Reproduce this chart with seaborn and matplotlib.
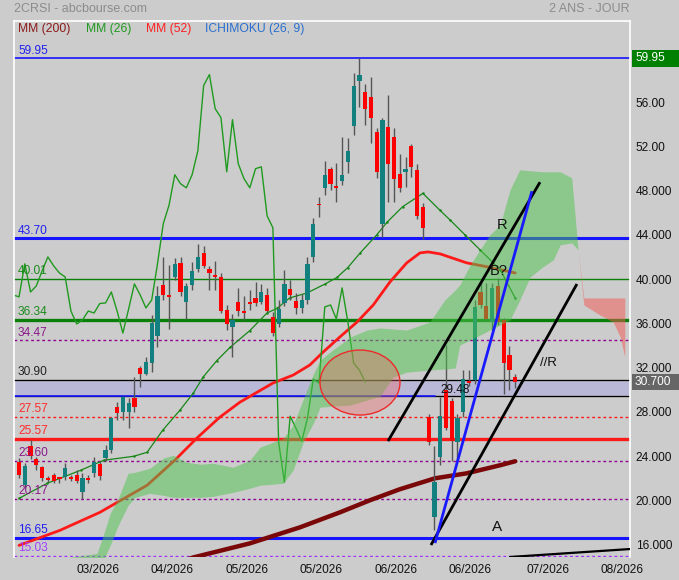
import numpy as np
import pandas as pd
import matplotlib
matplotlib.use("Agg")
import matplotlib.pyplot as plt
import matplotlib.transforms as mtransforms
from matplotlib.patches import Ellipse, Rectangle
import seaborn as sns

# ---- daily candles (open / high / low / close) ----
opens = [23.49, 21.38, 24.91, 23.73, 23.01, 21.95, 22.28, 22.05, 22.10, 22.13,
         22.28, 20.74, 22.04, 22.46, 23.28, 23.82, 24.54, 28.44, 27.98, 27.98,
         29.25, 31.97, 31.42, 32.42, 34.86, 39.48, 38.55, 40.20, 41.47, 37.94,
         39.48, 40.92, 42.37, 40.93, 40.38, 40.20, 37.21, 35.68, 37.94, 37.12,
         37.85, 38.30, 37.94, 38.57, 36.58, 35.95, 37.85, 39.12, 38.03, 37.40,
         38.12, 42.01, 46.72, 48.26, 49.98, 48.44, 48.89, 50.61, 53.87, 57.94,
         56.95, 56.49, 53.32, 45.00, 53.78, 52.87, 49.52, 49.70, 52.06, 49.88,
         46.54, 27.53, 18.48, 23.91, 29.98, 28.98, 25.27, 27.98, 30.70, 30.88,
         38.84, 37.58, 36.13, 39.39, 36.31, 33.14, 31.20]
highs = [23.82, 23.35, 25.45, 23.95, 23.15, 22.25, 22.45, 22.15, 23.35, 22.35,
         22.75, 22.45, 22.30, 23.91, 23.55, 25.05, 27.55, 28.92, 29.45, 29.25,
         31.15, 32.15, 32.95, 36.75, 39.35, 42.01, 41.29, 41.92, 42.01, 39.65,
         41.55, 43.19, 43.01, 41.20, 41.65, 40.56, 37.65, 36.85, 39.21, 38.48,
         39.05, 39.75, 39.57, 39.21, 37.03, 38.12, 40.85, 39.93, 38.75, 38.65,
         42.01, 45.54, 47.44, 50.70, 50.15, 50.52, 52.87, 52.78, 58.66, 59.95,
         57.67, 58.30, 53.69, 54.59, 56.67, 53.69, 51.33, 51.06, 52.24, 50.43,
         46.90, 27.80, 24.91, 29.34, 34.05, 29.25, 27.85, 31.78, 31.78, 38.12,
         39.66, 39.66, 39.66, 40.11, 36.49, 33.96, 31.45]
lows = [22.01, 21.15, 23.75, 22.75, 21.75, 21.65, 21.55, 21.55, 21.85, 21.75,
        21.55, 20.11, 21.60, 22.15, 21.85, 23.55, 24.25, 27.25, 27.25, 26.55,
        28.00, 30.25, 31.35, 31.65, 33.85, 38.15, 35.49, 39.93, 38.45, 36.40,
        39.05, 40.65, 41.02, 39.05, 39.05, 36.95, 35.41, 32.95, 36.65, 36.31,
        37.21, 37.58, 37.75, 37.03, 34.85, 35.68, 37.58, 38.15, 36.85, 36.95,
        37.75, 41.55, 45.63, 47.62, 48.05, 46.99, 48.53, 49.61, 53.05, 55.59,
        53.96, 52.33, 49.15, 43.82, 46.99, 46.99, 47.89, 48.35, 49.25, 45.45,
        43.64, 25.00, 17.30, 23.19, 26.35, 23.55, 23.55, 27.53, 30.34, 30.52,
        37.40, 36.31, 35.41, 35.85, 29.61, 29.97, 30.20]
closes = [22.28, 23.12, 24.00, 23.19, 22.01, 21.90, 21.74, 21.95, 22.92, 21.92,
          21.74, 22.01, 21.83, 23.46, 22.19, 24.54, 27.44, 27.89, 29.34, 28.80,
          28.44, 31.42, 32.51, 36.04, 38.48, 38.57, 38.40, 41.38, 38.84, 39.39,
          40.74, 42.01, 41.20, 40.56, 40.20, 37.12, 35.95, 36.31, 37.12, 36.94,
          37.80, 37.85, 38.84, 37.12, 35.13, 37.31, 39.57, 38.57, 37.40, 38.12,
          41.38, 45.00, 46.68, 49.43, 48.62, 48.25, 49.43, 51.60, 57.49, 58.48,
          55.40, 54.59, 49.70, 54.41, 50.43, 49.07, 48.25, 49.98, 50.15, 45.72,
          44.64, 25.27, 21.65, 27.62, 26.54, 25.36, 27.44, 30.97, 30.61, 37.49,
          37.67, 36.40, 39.21, 36.13, 32.42, 31.78, 30.70]

# moving averages, read at sample sessions
mm26_x = [0, 4.9, 10.7, 14.7, 19.9, 22.2, 24.9, 27.9, 30.2, 31.9, 34.3, 36.6, 40.0, 43.0, 44.7,
          46.9, 49.9, 53.0, 55.1, 57.0, 59.1, 62.0, 63.8, 66.5, 70.0, 72.9, 74.7, 77.3, 79.9, 83.4, 86.0]
mm26_y = [20.20, 21.56, 22.74, 23.64, 24.00, 24.36, 26.35, 28.17, 29.70, 31.15, 32.65, 33.85, 35.35, 36.95, 37.35,
          38.30, 38.75, 39.55, 40.15, 41.05, 42.35, 44.00, 45.15, 46.55, 47.75, 46.25, 45.35, 44.00, 42.65, 40.85, 38.30]
mm52_x = [0, 7.1, 14.0, 22.2, 27.0, 30.8, 34.8, 38.3, 44.0, 47.5, 50.4, 52.7, 55.6, 58.6, 61.4,
          64.3, 67.2, 69.5, 70.9, 73.0, 77.6, 82.1, 86.0]
mm52_y = [15.95, 17.31, 18.93, 21.38, 23.64, 25.63, 27.53, 28.89, 30.61, 31.33, 32.24, 33.41, 34.77, 36.13, 37.67,
          39.75, 41.47, 42.37, 42.46, 42.28, 41.47, 41.02, 40.56]
mm200_x = [25, 30.2, 40.0, 48.7, 55.6, 60.8, 66.0, 72.1, 77.6, 83.4, 86.0]
mm200_y = [14.00, 14.86, 16.13, 17.58, 18.93, 20.02, 21.02, 22.01, 22.46, 23.19, 23.55]

# ichimoku cloud (senkou A / senkou B)
cloud_x = [8.8, 13.5, 14.6, 15.8, 17.2, 18.9, 20.1, 22.7, 25.0, 26.7, 29.1, 31.4, 33.6, 37.1, 40.0, 41.8,
           45.8, 47.5, 49.2, 51.0, 52.2, 54.4, 57.4, 60.3, 62.6, 64.8, 67.2, 71.2, 73.8, 75.6, 76.4, 78.2,
           79.9, 81.6, 83.4, 85.1, 86.8, 88.6, 90.8, 92.6, 93.8, 95.8, 96.9, 97.9, 100.7, 103.0, 104.2, 105.0]
span_a = [14.86, 15.22, 16.85, 18.84, 20.20, 22.46, 22.55, 22.92, 23.82, 24.09, 23.46, 23.28, 23.37, 23.01, 23.64, 24.82,
          25.63, 26.81, 29.07, 31.42, 32.69, 33.60, 34.77, 35.40, 35.59, 35.50, 35.40, 36.13, 38.12, 39.02, 39.48, 41.29,
          42.65, 44.00, 44.91, 48.07, 49.88, 49.79, 49.70, 49.70, 49.70, 49.16, 42.65, 37.67, 36.76, 36.13, 34.77, 32.96]
span_b = [14.41, 14.41, 14.59, 15.95, 17.76, 19.57, 20.29, 20.65, 20.47, 20.29, 20.29, 20.29, 20.38, 20.74, 21.11, 21.38,
          21.56, 22.74, 25.18, 26.99, 28.44, 28.53, 28.62, 29.07, 29.43, 31.15, 31.60, 31.79, 31.88, 31.97, 34.05, 34.50,
          34.95, 35.40, 35.86, 36.31, 38.12, 40.20, 41.11, 41.74, 43.10, 43.28, 42.65, 38.30, 38.30, 38.30, 38.30, 38.30]

# horizontal levels
levels = [59.95, 43.70, 40.01, 36.34, 34.47, 30.90, 27.57, 25.57, 23.60, 20.17, 16.65, 15.03]
level_labels = ["59.95", "43.70", "40.01", "36.34", "34.47", "30.90", "27.57", "25.57", "23.60", "20.17", "16.65", "15.03"]
box_low = 29.48

# drawn trendlines (session, price) pairs
upper_line = [(63.95, 25.37), (90.3, 48.76)]
lower_line = [(71.4, 15.98), (96.7, 39.56)]
blue_line = [(72.1, 16.16), (88.9, 47.95)]
bottom_line = [(85.1, 14.90), (105.9, 15.62)]

month_pos = [13.7, 26.5, 39.5, 52.3, 65.3, 78.2, 91.7, 104.5]
month_labels = ["03/2026", "04/2026", "05/2026", "05/2026", "06/2026", "06/2026", "07/2026", "08/2026"]
price_ticks = [16, 20, 24, 28, 32, 36, 40, 44, 48, 52, 56, 60]
price_tick_labels = ["16.000", "20.000", "24.000", "28.000", "32.000", "36.000", "40.000",
                     "44.000", "48.000", "52.00", "56.00", "60.00"]
last_price = 30.70

df = pd.DataFrame({"open": opens, "high": highs, "low": lows, "close": closes})
df["x"] = np.arange(len(df))
# chikou span: close plotted 26 sessions back
chikou = pd.DataFrame({"x": df["x"] - 26, "y": df["close"]})

sns.set_style("white")
plt.rcParams['font.family'] = ['Liberation Sans', 'DejaVu Sans']

W, H = 679, 580
fig = plt.figure(figsize=(W / 100, H / 100), dpi=100, facecolor='#cccccc')
ax = fig.add_axes([14 / W, 1 - 557 / H, 616 / W, 536 / H])
ax.set_facecolor('#cccccc')
ax.set_xlim(-0.87, 105.9)
ax.set_ylim(14.90, 63.32)

# levels
lv_colors = ['#1515ff', '#1515ff', '#0a800a', '#0a800a', '#900090', 'black',
             '#ff1a1a', '#ff1a1a', '#900090', '#900090', '#1515ff', '#a030ff']
lv_widths = [1.2, 2.2, 1.0, 2.4, 1.0, 1.0, 1.0, 2.4, 1.0, 1.0, 2.2, 1.0]
lv_styles = ['-', '-', '-', '-', ':', '-', ':', '-', ':', ':', '-', ':']
txt_colors = ['#2020ee', '#2020ee', '#1a8a1a', '#1a8a1a', '#8a1a8a', '#222222',
              '#ff2a2a', '#ff2a2a', '#8a1a8a', '#8a1a8a', '#2020ee', '#a040ff']

ax.axhspan(box_low, 30.90, facecolor='#b9b9d7', zorder=1)
ax.axhline(box_low, color='black', lw=1.0, zorder=1.2)
ax.plot([-0.87, 72.1], [box_low, box_low], color='#1515ff', lw=1.2, zorder=1.3)
for lv, c, w, ls in zip(levels, lv_colors, lv_widths, lv_styles):
    ax.axhline(lv, color=c, lw=w, ls=ls if ls == '-' else (0, (2, 2)), zorder=1.2)
for lv, lbl, c in zip(levels, level_labels, txt_colors):
    ax.annotate(lbl, (-0.17, lv), xytext=(0, 1.2), textcoords='offset points',
                va='bottom', ha='left', fontsize=8.6, color=c, zorder=8)

# moving averages and chikou
sns.lineplot(x=mm200_x, y=mm200_y, ax=ax, color='#7a0808', lw=3.2, sort=False, estimator=None, zorder=2)
sns.lineplot(x=mm52_x, y=mm52_y, ax=ax, color='#ff1a1a', lw=2.0, sort=False, estimator=None, zorder=2)
sns.lineplot(x=mm26_x, y=mm26_y, ax=ax, color='#178717', lw=0.9, sort=False, estimator=None,
             marker='o', markersize=1.8, markeredgewidth=0, zorder=2)
sns.lineplot(data=chikou, x="x", y="y", ax=ax, color='#1f9a1f', lw=1.0, sort=False, estimator=None, zorder=2)

# candles
up = df["close"] >= df["open"]
ax.vlines(df["x"], df["low"], df["high"], color='#555555', lw=1.0, zorder=3)
body_low = np.minimum(df["open"], df["close"])
body_h = np.maximum((df["close"] - df["open"]).abs(), 0.15)
ax.bar(df["x"], body_h, bottom=body_low, width=0.74,
       color=np.where(up, '#138080', '#ff0000'), edgecolor='none', zorder=3.5)

# ichimoku cloud
a = np.array(span_a)
b = np.array(span_b)
ax.fill_between(cloud_x, a, b, where=a >= b, interpolate=True, color='#4ec44e', alpha=0.5, lw=0, zorder=4)
ax.fill_between(cloud_x, a, b, where=a < b, interpolate=True, color='#f45852', alpha=0.5, lw=0, zorder=4)

# trendlines
for seg, col in [(upper_line, 'black'), (lower_line, 'black'), (blue_line, '#1a1aff')]:
    ax.plot([seg[0][0], seg[1][0]], [seg[0][1], seg[1][1]], color=col, lw=2.0, zorder=5,
            solid_capstyle='butt')
ax.plot([bottom_line[0][0], bottom_line[1][0]], [bottom_line[0][1], bottom_line[1][1]],
        color='black', lw=1.6, zorder=5)

ax.add_patch(Ellipse((59.1, 30.66), 13.86, 5.87, facecolor='#f06060', alpha=0.35,
                     edgecolor='none', zorder=6))
ax.add_patch(Ellipse((59.1, 30.66), 13.86, 5.87, facecolor='none', edgecolor='#ee2a2a',
                     lw=1.0, zorder=6))

# annotations
ax.text(83.7, 44.9, "R", fontsize=10.5, ha='center', va='center', color='#111111', zorder=8)
ax.text(83.2, 40.7, "B?", fontsize=10.5, ha='center', va='center', color='#111111', zorder=8)
ax.text(91.7, 32.43, "//R", fontsize=9.5, ha='center', va='center', color='#111111', zorder=8)
ax.text(82.8, 17.61, "A", fontsize=11, ha='center', va='center', color='#111111', zorder=8)
ax.text(75.6, 29.99, "29.48", fontsize=8.5, ha='center', va='center', color='#111111', zorder=8)

# axes styling
for side in ['left', 'top', 'right']:
    ax.spines[side].set_color('white')
    ax.spines[side].set_linewidth(1.2)
ax.spines['bottom'].set_visible(False)
ax.yaxis.tick_right()
ax.set_yticks(price_ticks)
ax.set_yticklabels(price_tick_labels)
ax.set_xticks(month_pos)
ax.set_xticklabels(month_labels)
ax.tick_params(axis='y', length=0, pad=4, labelsize=8.6, labelcolor='#111111')
ax.tick_params(axis='x', length=0, pad=5, labelsize=8.6, labelcolor='#111111')
ax.set_xlabel("")
ax.set_ylabel("")

# price boxes on the right scale
trans = mtransforms.blended_transform_factory(fig.transFigure, ax.transData)
for val, txt, col in [(59.95, "59.95", '#008000'), (last_price, "30.700", '#666666')]:
    ax.add_patch(Rectangle((632 / W, val - 0.75), 47 / W, 1.5, transform=trans,
                           facecolor=col, edgecolor='none', clip_on=False, zorder=10))
    ax.text(635 / W, val, txt, transform=trans, color='white', fontsize=8.6,
            va='center', ha='left', zorder=11, clip_on=False)

# header texts
fig.text(14 / W, 1 - 9 / H, "2CRSI - abcbourse.com", color='#8c8c8c', fontsize=9, va='center', ha='left')
fig.text(630 / W, 1 - 9 / H, "2 ANS - JOUR", color='#8c8c8c', fontsize=9, va='center', ha='right')
legend_items = [("MM (200)", '#8b1a1a', 18), ("MM (26)", '#1f9a1f', 86),
                ("MM (52)", '#ff2020', 146), ("ICHIMOKU (26, 9)", '#2a70d0', 205)]
for name, col, px in legend_items:
    fig.text(px / W, 1 - 29 / H, name, color=col, fontsize=8.7, va='center', ha='left')

fig.savefig("out.png", dpi=100, facecolor=fig.get_facecolor())
